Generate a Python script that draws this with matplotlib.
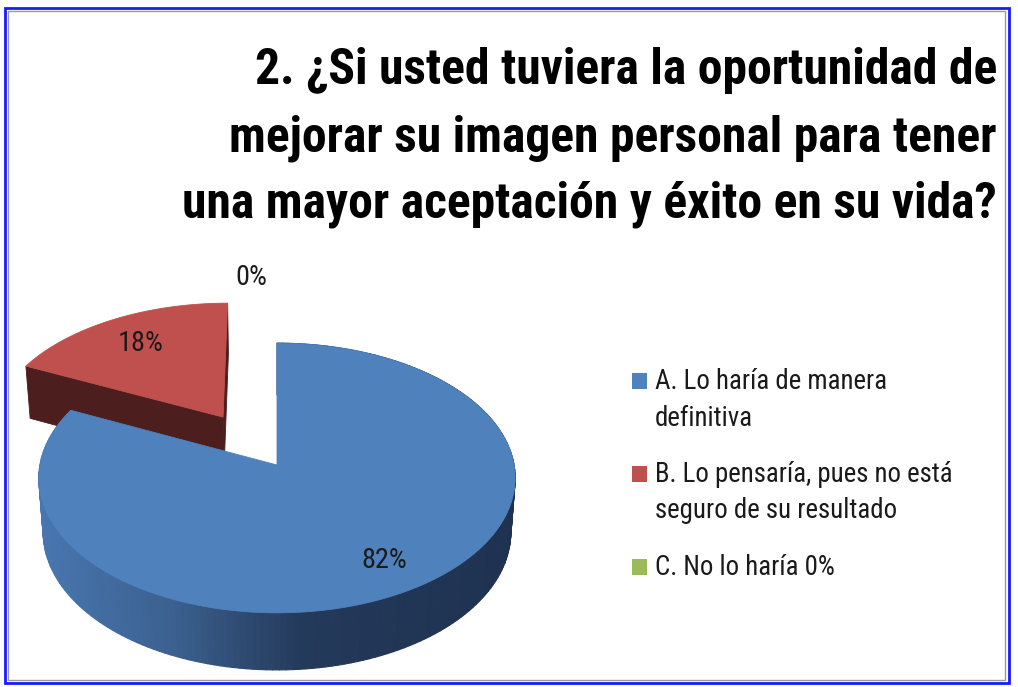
import numpy as np
import matplotlib
matplotlib.use("Agg")
import matplotlib.pyplot as plt
import matplotlib.font_manager as fm
from matplotlib.font_manager import FontProperties
from matplotlib.patches import Polygon, Rectangle
from matplotlib.collections import PolyCollection
from matplotlib.colors import to_rgb

# ---------------- data ----------------
title_lines = ["2. ¿Si usted tuviera la oportunidad de",
               "mejorar su imagen personal para tener",
               "una mayor aceptación y éxito en su vida?"]
categories = ["A. Lo haría de manera\ndefinitiva",
              "B. Lo pensaría, pues no está\nseguro de su resultado",
              "C. No lo haría 0%"]
values = [82, 18, 0]
pct_labels = ["82%", "18%", "0%"]

# ---------------- style ----------------
top_colors = ["#4f81bd", "#c0504d", "#9bbb59"]
side_dark = ["#1f3350", "#4d1e1e", "#5a7030"]
explode = [0.0, 0.44, 0.44]


def pick_font(bold):
    """Prefer a narrow / condensed face (the reference uses a condensed look)."""
    best = None
    for f in fm.fontManager.ttflist:
        name = f.name.lower()
        st = f.stretch
        cond = ("narrow" in name or "condensed" in name or
                (isinstance(st, str) and "condensed" in st) or
                (not isinstance(st, str) and st < 500))
        if not cond:
            continue
        w = f.weight if not isinstance(f.weight, str) else (700 if "bold" in f.weight else 400)
        isbold = w >= 600
        if isbold != bold or f.style != "normal":
            continue
        score = 0 if ("liberation" in name or "arial" in name) else (1 if "roboto" in name else 2)
        if best is None or score < best[0]:
            best = (score, f.fname)
    if best:
        return FontProperties(fname=best[1])
    return FontProperties(family="Liberation Sans", weight="bold" if bold else "normal")


FP_REG = pick_font(False)
FP_BOLD = pick_font(True)

W, H = 1018, 687
fig = plt.figure(figsize=(W / 100, H / 100), dpi=100)
ax = fig.add_axes([0, 0, 1, 1])
ax.set_xlim(0, W)
ax.set_ylim(H, 0)
ax.axis("off")
renderer = fig.canvas.get_renderer()


def fit_size(text, fp, target_px, start=20):
    t = ax.text(0, 0, text, fontproperties=fp, fontsize=start)
    wpx = t.get_window_extent(renderer).width
    t.remove()
    return start * target_px / wpx


# perspective projection of a 3D pie
E = np.radians(34.3)
S, C = np.sin(E), np.cos(E)
F, D = 2034.0, 8.58
CX, CY = 277.0, 465.0
THICK = 0.283


def proj(X, Y, Z):
    X = np.asarray(X, float); Y = np.asarray(Y, float); Z = np.asarray(Z, float)
    v = Y * S + Z * C
    w = Y * C - Z * S
    k = F / (D + w)
    return np.column_stack([np.atleast_1d(CX + X * k), np.atleast_1d(CY - v * k)])


def lerp_color(x):
    stops = [(40, "#4876b0"), (170, "#3c6190"), (300, "#243a5b"), (520, "#1e3150")]
    xs = [s[0] for s in stops]
    cols = np.array([to_rgb(s[1]) for s in stops])
    return tuple(np.interp(x, xs, cols[:, i]) for i in range(3))


total = float(sum(values))
starts = np.concatenate([[0], np.cumsum(values)[:-1]]) / total * 360.0
ends = np.cumsum(values) / total * 360.0


def slice_geom(i, n=200):
    a0, a1 = np.radians(starts[i]), np.radians(ends[i])
    mid = 0.5 * (a0 + a1)
    ox, oy = explode[i] * np.sin(mid), explode[i] * np.cos(mid)
    th = np.linspace(a0, a1, n)
    return ox, oy, th, a0, a1, mid


# draw from back to front: slice B (red) then A (blue)
for i in [1, 0]:
    if values[i] <= 0:
        continue
    ox, oy, th, a0, a1, mid = slice_geom(i)
    px = ox + np.sin(th)
    py = oy + np.cos(th)
    top_arc = proj(px, py, np.zeros_like(th))
    bot_arc = proj(px, py, -THICK * np.ones_like(th))
    apex_t = proj(ox, oy, 0)[0]
    apex_b = proj(ox, oy, -THICK)[0]
    if i == 1:
        for ang in (a0, a1):
            ex, ey = ox + np.sin(ang), oy + np.cos(ang)
            et = proj(ex, ey, 0)[0]
            eb = proj(ex, ey, -THICK)[0]
            ax.add_patch(Polygon([apex_t, et, eb, apex_b], closed=True,
                                 facecolor=side_dark[i], edgecolor=side_dark[i], lw=0.6))
    else:
        quads, cols = [], []
        for j in range(len(th) - 1):
            q = [top_arc[j], top_arc[j + 1], bot_arc[j + 1], bot_arc[j]]
            quads.append(q)
            cols.append(lerp_color(np.mean([p[0] for p in q])))
        ax.add_collection(PolyCollection(quads, facecolors=cols, edgecolors=cols, linewidths=0.8))
    ax.add_patch(Polygon(np.vstack([apex_t, top_arc]), closed=True,
                         facecolor=top_colors[i], edgecolor=top_colors[i], lw=0.6))

# percentage labels
lab_size = fit_size("82%", FP_REG, 46)
label_r = [0.79, 0.74, 1.18]
for i in range(len(values)):
    ox, oy, th, a0, a1, mid = slice_geom(i)
    p = proj(ox + label_r[i] * np.sin(mid), oy + label_r[i] * np.cos(mid), 0)[0]
    dx = -26 if values[i] == 0 else 0
    ax.text(p[0] + dx, p[1], pct_labels[i], ha="center", va="center",
            fontproperties=FP_REG, fontsize=lab_size, color="#1a1a1a")

# title
title_size = 0.5 * (fit_size(title_lines[0], FP_BOLD, 740) + fit_size(title_lines[2], FP_BOLD, 814))
title_base = [84, 151, 218]
for line, yb in zip(title_lines, title_base):
    ax.text(997, yb, line, ha="right", va="baseline", fontproperties=FP_BOLD,
            fontsize=title_size, color="black")

# legend
leg_size = 0.5 * (fit_size("A. Lo haría de manera", FP_REG, 233)
                  + fit_size("B. Lo pensaría, pues no está", FP_REG, 298))
leg_base = [[389, 426], [482, 518], [575]]
for i, cat in enumerate(categories):
    lines = cat.split("\n")
    y0 = leg_base[i][0]
    ax.add_patch(Rectangle((632, y0 - 16), 15, 16, facecolor=top_colors[i], edgecolor="none"))
    for line, yb in zip(lines, leg_base[i]):
        ax.text(655, yb, line, ha="left", va="baseline", fontproperties=FP_REG,
                fontsize=leg_size, color="#1a1a1a")

# frame
ax.add_patch(Rectangle((5, 8), 1004, 675, fill=False, edgecolor="#1a1aff", lw=2))
ax.add_patch(Rectangle((8, 11), 997, 669, fill=False, edgecolor="#9a9a9a", lw=1))

fig.savefig("out.png", dpi=100)
